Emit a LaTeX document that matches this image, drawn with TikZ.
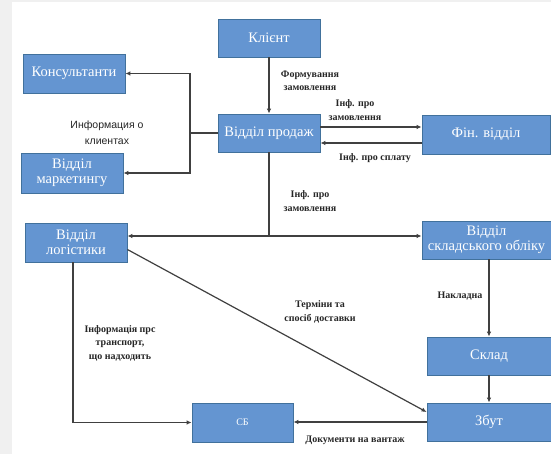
\documentclass[tikz,border=0pt]{standalone}
\usepackage{fontspec}
\setmainfont{Liberation Serif}
\newfontfamily\sansf{Liberation Sans}
\usepackage{tikz}
\usetikzlibrary{arrows.meta,positioning,calc}
\definecolor{boxfill}{HTML}{6495D1}
\definecolor{boxline}{HTML}{41719C}
\definecolor{wire}{HTML}{404040}
\definecolor{pagegray}{HTML}{F0F0F0}
\tikzset{%
  unit/.style={draw=boxline,fill=boxfill,line width=0.8pt,text=white,align=center,inner sep=0pt,font=\rmfamily\fontsize{14.5}{15}\selectfont},
  lbl/.style={align=center,text=black!85,inner sep=0pt,font=\rmfamily\bfseries\fontsize{10}{13.5}\selectfont},
  arr/.style={draw=wire,line width=1.2pt,-{Latex[length=5pt,width=4.5pt]}},
  wirel/.style={draw=wire,line width=1.2pt},
}
\begin{document}
\begin{tikzpicture}[x=1pt,y=1pt]
  \useasboundingbox (0,0) rectangle (551,454);
  \fill[pagegray] (0,0) rectangle (551,454);
  \fill[white] (12,0) rectangle (551,452);
  % boxes
  \node[unit,minimum width=102pt,minimum height=38pt] (klient) at (269,416) {Клієнт};
  \node[unit,minimum width=102pt,minimum height=39pt] (konsult) at (74,380.5) {Консультанти};
  \node[unit,minimum width=102pt,minimum height=38pt] (prodazh) at (269,321) {Відділ продаж};
  \node[unit,minimum width=128pt,minimum height=39pt] (fin) at (486,319.5) {Фін. відділ};
  \node[unit,minimum width=102pt,minimum height=40pt] (market) at (72,281) {Відділ\\маркетингу};
  \node[unit,minimum width=102pt,minimum height=39pt] (logist) at (76,211.5) {Відділ\\логістики};
  \node[unit,minimum width=129pt,minimum height=38pt] (sklobl) at (486.5,214) {Відділ\\складського обліку};
  \node[unit,minimum width=124pt,minimum height=38pt] (sklad) at (489,98) {Склад};
  \node[unit,minimum width=124pt,minimum height=38pt] (zbut) at (489,32) {Збут};
  \node[unit,minimum width=101pt,minimum height=39pt,font=\rmfamily\fontsize{10}{11}\selectfont] (sb) at (242.5,31.5) {СБ};
  % hubs
  \coordinate (hubL) at (190,321);
  \coordinate (hubD) at (269,218);
  % connectors
  \draw[arr] (klient) -- (prodazh);
  \draw[wirel] (prodazh.west) -- (hubL);
  \draw[arr] (hubL) |- (konsult.east);
  \draw[arr] (hubL) |- (market.east);
  \draw[arr] ([yshift=6pt]prodazh.east) -- ([yshift=6pt]prodazh.east -| fin.west);
  \draw[arr] ([yshift=-10pt]prodazh.east -| fin.west) -- ([yshift=-10pt]prodazh.east);
  \draw[wirel] (prodazh.south) -- (hubD);
  \draw[arr] (hubD) -- (hubD -| logist.east);
  \draw[arr] (hubD) -- (hubD -| sklobl.west);
  \draw[arr] ([xshift=-3pt]logist.south) |- (sb.west);
  \draw[arr] ([yshift=-7pt]logist.east) -- ([yshift=10pt]zbut.west);
  \draw[arr] (sklobl.south -| sklad.north) -- (sklad.north);
  \draw[arr] (sklad) -- (zbut);
  \draw[arr] (zbut.west) -- (zbut.west -| sb.east);
  % labels
  \node[lbl] (l1) at (310,373) {Формування\\замовлення};
  \node[lbl,font=\sansf\fontsize{10.5}{16}\selectfont] (l2) at (107,321) {Информация о\\клиентах};
  \node[lbl] (l3) at (355,344) {Інф. про\\замовлення};
  \node[lbl] (l4) at (375,296) {Інф. про сплату};
  \node[lbl] (l5) at (310,253) {Інф. про\\замовлення};
  \node[lbl] (l6) at (120,111) {Інформація прс\\транспорт,\\що надходить};
  \node[lbl] (l7) at (320,142) {Терміни та\\спосіб доставки};
  \node[lbl] (l8) at (460,158) {Накладна};
  \node[lbl] (l9) at (355,14) {Документи на вантаж};
\end{tikzpicture}
\end{document}
